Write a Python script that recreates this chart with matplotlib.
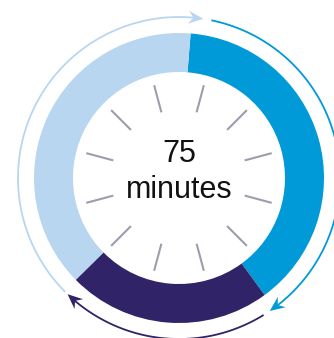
import matplotlib.pyplot as plt
import numpy as np
from matplotlib.patches import Polygon

# segment minutes, clockwise from the top
labels = ['A', 'B', 'C']
minutes = [29, 17, 29]
colors = ['#009ad8', '#312367', '#b9d6f1']
total = sum(minutes)

# layout (pixels)
cx, cy = 179, 160
r_out, r_in = 145, 106
r_arrow = 161
start_deg = 4.6  # clockwise from top
# arrow spans in degrees clockwise from top (one per segment)
arrow_spans = [(11.6, 145.7), (148.3, 223.8), (225.0, 368.7)]
n_ticks = 12

fig = plt.figure(figsize=(3.34, 3.38), dpi=100)
ax = fig.add_axes([0, 0, 1, 1])

ax.pie(minutes, colors=colors, startangle=90 - start_deg, counterclock=False,
       radius=r_out, center=(cx, cy),
       wedgeprops=dict(width=r_out - r_in, linewidth=0))


def pt(deg, r):
    t = np.radians(deg)
    return cx + r * np.sin(t), cy + r * np.cos(t)


# clock ticks
for k in range(n_ticks):
    a = 15 + k * 360 / n_ticks
    x0, y0 = pt(a, 68)
    x1, y1 = pt(a, 96)
    ax.plot([x0, x1], [y0, y1], color='#9d9dac', lw=1.5, solid_capstyle='butt')

# arrows around the ring
L, W, notch = 15, 6.5, 5
for (a0, a1), c in zip(arrow_spans, colors):
    th = np.linspace(a0, a1 - 3, 80)
    xs, ys = pt(th, r_arrow)
    ax.plot(xs, ys, color=c, lw=1.3, solid_capstyle='butt')
    tx, ty = pt(a1, r_arrow)
    bx, by = pt(a1 - 5, r_arrow)
    d = np.array([tx - bx, ty - by])
    d = d / np.hypot(*d)
    n = np.array([-d[1], d[0]])
    tip = np.array([tx, ty])
    head = [tip, tip - L * d + W * n, tip - (L - notch) * d, tip - L * d - W * n]
    ax.add_patch(Polygon(head, closed=True, color=c, lw=0))

ax.text(cx, 176, str(total), ha='center', va='baseline', fontsize=22,
        family='Liberation Sans', color='#111111')
ax.text(cx, 140, 'minutes', ha='center', va='baseline', fontsize=22,
        family='Liberation Sans', color='#111111')

ax.set_xlim(0, 334)
ax.set_ylim(0, 338)
ax.axis('off')

plt.savefig('out.png', dpi=100)
